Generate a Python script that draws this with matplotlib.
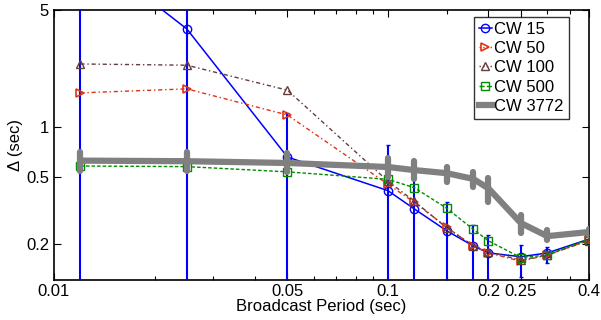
import numpy as np
import matplotlib
matplotlib.use('Agg')
import matplotlib.pyplot as plt
from matplotlib.lines import Line2D
from matplotlib.ticker import FixedLocator, NullFormatter, NullLocator

plt.rcParams['font.family'] = ['Liberation Sans', 'DejaVu Sans']

# broadcast periods (sec)
period = [0.012, 0.025, 0.05, 0.1, 0.12, 0.15, 0.18, 0.2, 0.25, 0.3, 0.4]

cw15 = [12.0, 3.85, 0.662, 0.417, 0.324, 0.24, 0.195, 0.177, 0.168, 0.177, 0.214]
cw15_lo = [0.05, 0.05, 0.05, 0.05, 0.05, 0.05, 0.05, 0.05, 0.127, 0.154, 0.205]
cw15_hi = [20.0, 20.0, 1.21, 0.78, 0.60, 0.358, 0.26, 0.227, 0.197, 0.193, 0.224]

cw50 = [1.60, 1.69, 1.18, 0.455, 0.355, 0.252, 0.195, 0.177, 0.158, 0.172, 0.211]
cw100 = [2.38, 2.34, 1.66, 0.475, 0.36, 0.25, 0.196, 0.18, 0.16, 0.172, 0.21]
cw500 = [0.585, 0.58, 0.54, 0.487, 0.434, 0.327, 0.245, 0.209, 0.166, 0.172, 0.214]

cw3772 = [0.63, 0.625, 0.61, 0.577, 0.553, 0.53, 0.49, 0.43, 0.267, 0.223, 0.236]
cw3772_lo = [0.55, 0.55, 0.54, 0.505, 0.49, 0.47, 0.44, 0.356, 0.232, 0.211, 0.228]
cw3772_hi = [0.71, 0.71, 0.70, 0.65, 0.63, 0.58, 0.54, 0.496, 0.298, 0.242, 0.245]

xticks = [0.01, 0.05, 0.1, 0.2, 0.25, 0.4]
xticklabels = ['0.01', '0.05', '0.1', '0.2', '0.25', '0.4']
yticks = [0.2, 0.5, 1, 5]
yticklabels = ['0.2', '0.5', '1', '5']

fig = plt.figure(figsize=(6.01, 3.2), dpi=100)
ax = fig.add_axes([54/601, 40/320, 535/601, 270/320])

blue = (0, 0, 1)
red = (0.88, 0.2, 0.08)
brown = (0.4, 0.24, 0.24)
green = (0, 0.55, 0)
gray = (0.5, 0.5, 0.5)

c15 = np.array(cw15)
ax.errorbar(period, cw15, yerr=[c15 - np.array(cw15_lo), np.array(cw15_hi) - c15],
            color=blue, lw=1.1, marker='o', ms=6, mfc='none', mec=blue, mew=1.0,
            elinewidth=1.5, capsize=1.5, zorder=3)
ax.plot(period, cw50, color=red, lw=1.0, ls=(0, (3, 2, 1, 2)), marker='>', ms=6,
        mfc='none', mec=red, mew=1.2, zorder=4)
ax.plot(period, cw100, color=brown, lw=1.0, ls=(0, (3, 2, 1, 2)), marker='^', ms=6,
        mfc='none', mec=brown, mew=1.0, zorder=4)
ax.plot(period, cw500, color=green, lw=1.0, ls=(0, (2.5, 1.5)), marker='s', ms=5.5,
        mfc='none', mec=green, mew=1.0, zorder=4)
c3772 = np.array(cw3772)
eb = ax.errorbar(period, cw3772, yerr=[c3772 - np.array(cw3772_lo), np.array(cw3772_hi) - c3772],
                 color=gray, lw=4.5, elinewidth=4.5, capsize=0, zorder=5)
eb[2][0].set_capstyle('round')

ax.set_xscale('log')
ax.set_yscale('log')
ax.set_xlim(0.01, 0.4)
ax.set_ylim(0.122, 5)

ax.xaxis.set_major_locator(FixedLocator(xticks))
ax.set_xticklabels(xticklabels)
ax.xaxis.set_minor_locator(FixedLocator([0.02, 0.03, 0.04, 0.06, 0.07, 0.08, 0.09, 0.15, 0.3, 0.35]))
ax.xaxis.set_minor_formatter(NullFormatter())
ax.yaxis.set_major_locator(FixedLocator(yticks))
ax.set_yticklabels(yticklabels)
ax.yaxis.set_minor_locator(NullLocator())

ax.tick_params(which='both', direction='in', top=True, right=True, labelsize=12, width=0.8)
ax.tick_params(which='major', length=5)
ax.tick_params(which='minor', length=3)
ax.tick_params(axis='x', pad=3)
for s in ax.spines.values():
    s.set_linewidth(1.2)

ax.set_xlabel('Broadcast Period (sec)', fontsize=12, labelpad=0)
ax.set_ylabel('Δ (sec)', fontsize=12, labelpad=2)

handles = [
    Line2D([], [], color=blue, lw=1.1, marker='o', ms=6, mfc='none', mew=1.0),
    Line2D([], [], color=red, lw=1.0, ls=':', marker='>', ms=6, mfc='none', mew=1.2),
    Line2D([], [], color=brown, lw=1.0, ls=':', marker='^', ms=6, mfc='none', mew=1.0),
    Line2D([], [], color=green, lw=1.0, ls='--', marker='s', ms=5.5, mfc='none', mew=1.0),
    Line2D([], [], color=gray, lw=4.5),
]
labels = ['CW 15', 'CW 50', 'CW 100', 'CW 500', 'CW 3772']
leg = ax.legend(handles, labels, loc='upper right', fontsize=12, frameon=True, fancybox=False,
                handlelength=0.8, handletextpad=0.15, borderpad=0.3, labelspacing=0.25,
                borderaxespad=0, bbox_to_anchor=(569/601, 1 - 17/320),
                bbox_transform=fig.transFigure)
leg.get_frame().set_edgecolor('black')
leg.get_frame().set_linewidth(1.0)
leg.set_zorder(10)

fig.savefig('out.png', dpi=100)
